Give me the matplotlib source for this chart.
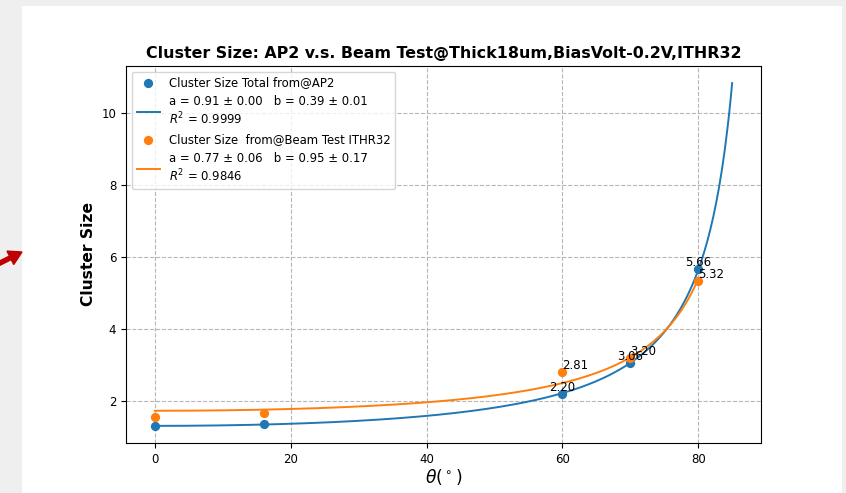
import numpy as np
import matplotlib
matplotlib.use('Agg')
import matplotlib.pyplot as plt
from matplotlib.patches import Rectangle, FancyArrow
from matplotlib.transforms import IdentityTransform

# 数据点：角度与 cluster size
theta = [0, 16, 60, 70, 80]
ap2_size = [1.30, 1.35, 2.20, 3.06, 5.66]
beam_size = [1.55, 1.65, 2.81, 3.20, 5.32]

# 拟合参数  y = a / cos(theta) + b
ap2_a, ap2_a_err, ap2_b, ap2_b_err, ap2_r2 = 0.91, 0.00, 0.39, 0.01, 0.9999
beam_a, beam_a_err, beam_b, beam_b_err, beam_r2 = 0.77, 0.06, 0.95, 0.17, 0.9846
ap2_fit_max = 85
beam_fit_max = 80

# 只标注这几个角度的数值
label_theta = [60, 70, 80]

fig = plt.figure(figsize=(8.46, 4.93), dpi=100)
fig.patch.set_facecolor('#efefef')
# 截图的白色底板和左侧的红色箭头
fig.patches.append(Rectangle((22 / 846, 0), 820 / 846, 487 / 493, transform=fig.transFigure,
                             facecolor='white', edgecolor='none', zorder=-10))
fig.patches.append(FancyArrow(-2, 229, 24, 12, width=4, head_width=15, head_length=13,
                              transform=IdentityTransform(), color='#c00000',
                              length_includes_head=True))

ax = fig.add_axes([126 / 846, 50 / 493, 635 / 846, 377 / 493])

def fit_curve(a, b, xmax):
    x = np.linspace(0, xmax, 400)
    return x, a / np.cos(np.radians(x)) + b

ax.scatter(theta, ap2_size, color='C0', s=32, label='Cluster Size Total from@AP2', zorder=3)
xf, yf = fit_curve(ap2_a, ap2_b, ap2_fit_max)
ax.plot(xf, yf, color='C0', lw=1.4,
        label=f'a = {ap2_a:.2f} ± {ap2_a_err:.2f}   b = {ap2_b:.2f} ± {ap2_b_err:.2f}\n$R^2$ = {ap2_r2:.4f}')

ax.scatter(theta, beam_size, color='C1', s=32, label='Cluster Size  from@Beam Test ITHR32', zorder=3)
xf, yf = fit_curve(beam_a, beam_b, beam_fit_max)
ax.plot(xf, yf, color='C1', lw=1.4,
        label=f'a = {beam_a:.2f} ± {beam_a_err:.2f}   b = {beam_b:.2f} ± {beam_b_err:.2f}\n$R^2$ = {beam_r2:.4f}')

for x, y1, y2 in zip(theta, ap2_size, beam_size):
    if x in label_theta:
        ax.text(x, y1, f'{y1:.2f}', ha='center', va='bottom', fontsize=8.5)
        ax.text(x, y2, f'{y2:.2f}', ha='left', va='bottom', fontsize=8.5)

ax.set_title('Cluster Size: AP2 v.s. Beam Test@Thick18um,BiasVolt-0.2V,ITHR32',
             fontsize=11.4, fontweight='bold')
ax.set_xlabel(r'$\theta(^\circ)$', fontsize=12.3, labelpad=1)
ax.set_ylabel('Cluster Size', fontsize=11.2, fontweight='bold')
ax.tick_params(labelsize=8.5)
ax.grid(True, linestyle='--', color='#b0b0b0', alpha=0.9)
ax.legend(loc='upper left', fontsize=8.4)

plt.savefig('out.png', dpi=100, facecolor=fig.get_facecolor())
